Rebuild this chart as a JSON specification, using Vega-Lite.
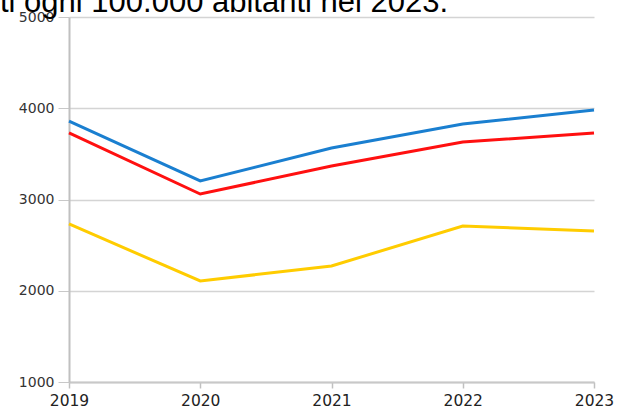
{
  "$schema": "https://vega.github.io/schema/vega-lite/v6.json",
  "width": 525,
  "height": 365,
  "autosize": {"type": "none"},
  "padding": {"left": 69, "top": 17, "right": 23, "bottom": 30},
  "background": "white",
  "title": {
    "text": "ti ogni 100.000 abitanti nel 2023.",
    "anchor": "start",
    "frame": "group",
    "orient": "top",
    "baseline": "alphabetic",
    "offset": 0,
    "dy": 33,
    "dx": -69,
    "font": "Liberation Sans",
    "fontSize": 31,
    "fontWeight": "normal",
    "color": "#000000"
  },
  "data": {
    "values": [
      {"year": "2019", "series": "A", "value": 3860},
      {"year": "2020", "series": "A", "value": 3203},
      {"year": "2021", "series": "A", "value": 3564},
      {"year": "2022", "series": "A", "value": 3827},
      {"year": "2023", "series": "A", "value": 3981},
      {"year": "2019", "series": "B", "value": 3729},
      {"year": "2020", "series": "B", "value": 3060},
      {"year": "2021", "series": "B", "value": 3367},
      {"year": "2022", "series": "B", "value": 3630},
      {"year": "2023", "series": "B", "value": 3729},
      {"year": "2019", "series": "C", "value": 2732},
      {"year": "2020", "series": "C", "value": 2107},
      {"year": "2021", "series": "C", "value": 2271},
      {"year": "2022", "series": "C", "value": 2710},
      {"year": "2023", "series": "C", "value": 2655}
    ]
  },
  "mark": {"type": "line", "strokeWidth": 3, "clip": false},
  "encoding": {
    "x": {
      "field": "year",
      "type": "ordinal",
      "scale": {"type": "point", "padding": 0},
      "axis": {
        "title": null,
        "labelAngle": 0,
        "labelFont": "DejaVu Sans",
        "labelFontSize": 15.5,
        "labelColor": "#222222",
        "labelPadding": 5,
        "domainColor": "#c8c8c8",
        "domainWidth": 2,
        "tickColor": "#c0c0c0",
        "tickSize": 6,
        "tickWidth": 1.5,
        "grid": false
      }
    },
    "y": {
      "field": "value",
      "type": "quantitative",
      "scale": {"domain": [1000, 5000], "nice": false, "zero": false},
      "axis": {
        "title": null,
        "format": "d",
        "values": [1000, 2000, 3000, 4000, 5000],
        "labelFont": "DejaVu Sans",
        "labelFontSize": 14,
        "labelColor": "#333333",
        "labelPadding": 4,
        "domainColor": "#c0c0c0",
        "domainWidth": 2,
        "tickColor": "#c8c8c8",
        "tickSize": 11,
        "grid": true,
        "gridColor": "#d4d4d4",
        "gridWidth": 1.5
      }
    },
    "color": {
      "field": "series",
      "type": "nominal",
      "scale": {"domain": ["A", "B", "C"], "range": ["#1a7fd0", "#ff1010", "#ffcc00"]},
      "legend": null
    }
  },
  "config": {"view": {"stroke": null}}
}
